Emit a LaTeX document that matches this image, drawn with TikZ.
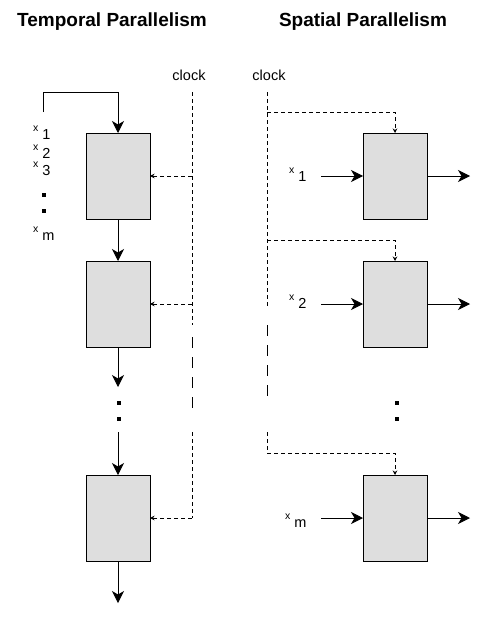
\documentclass[tikz,border=0pt]{standalone}
\usepackage{fontspec}
\setmainfont{Liberation Sans}
\usetikzlibrary{arrows.meta,positioning}
\definecolor{boxgray}{RGB}{222,222,222}
\newcommand{\xsub}[1]{\raisebox{8pt}{\fontsize{10.5}{10.5}\selectfont x}\hspace{4pt}{\fontsize{14.5}{14.5}\selectfont #1}}

\begin{document}
\begin{tikzpicture}[
    x=1pt, y=-1pt,
    stage/.style={rectangle, draw, line width=1pt, fill=boxgray, minimum width=64pt, minimum height=86pt, inner sep=0pt, outer sep=0pt},
    flow/.style={-{Stealth[length=12pt, width=12pt, inset=3.5pt]}, line width=1pt},
    clkarrow/.style={-{Stealth[length=4.5pt, width=4.5pt]}, line width=1pt, dash pattern=on 4pt off 3pt},
    shortdash/.style={line width=1pt, dash pattern=on 4pt off 3pt},
    longdash/.style={line width=1pt, dash pattern=on 11pt off 9pt},
    dotbox/.style={rectangle, fill, minimum size=4pt, inner sep=0pt},
    heading/.style={font=\fontsize{19}{22}\selectfont\bfseries, anchor=base},
    clocklabel/.style={font=\fontsize{14.5}{16}\selectfont, anchor=base},
    inlabel/.style={anchor=base west, inner sep=0pt}
]
\useasboundingbox (0,0) rectangle (479,618);

% Titles
\node[heading] (tempT) at (112,27) {Temporal Parallelism};
\node[heading] (spatT) at (363,27) {Spatial Parallelism};

% Clock labels
\node[clocklabel] (clkT) at (189,80) {clock};
\node[clocklabel] (clkS) at (269,80) {clock};

% Temporal: pipeline stages
\node[stage] (t1) at (118,176) {};
\node[stage, below=42pt of t1] (t2) {};
\node[stage, below=128pt of t2] (t3) {};

% Temporal: input stream
\node[inlabel] (x1) at (33,139) {\xsub{1}};
\node[inlabel] (x2) at (33,158) {\xsub{2}};
\node[inlabel] (x3) at (33,175) {\xsub{3}};
\node[dotbox] (dl1) at (44,195) {};
\node[dotbox] (dl2) at (44,211) {};
\node[inlabel] (xm) at (33,240) {\xsub{m}};

% Temporal: gap between stages
\node[dotbox] (dm1) at (118.5,403) {};
\node[dotbox] (dm2) at (118.5,419) {};

% Spatial: parallel units
\node[stage] (s1) at (395,176) {};
\node[stage, below=42pt of s1] (s2) {};
\node[stage, below=128pt of s2] (s3) {};

% Spatial: inputs
\node[inlabel] (y1) at (289,181) {\xsub{1}};
\node[inlabel] (y2) at (289,308) {\xsub{2}};
\node[inlabel] (ym) at (285,527) {\xsub{m}};
\node[dotbox] (dr1) at (397,403) {};
\node[dotbox] (dr2) at (397,419) {};

% Coordinates for free ends
\coordinate (feed) at (43,112);
\coordinate[below=40pt of t2.south] (gapin);
\coordinate[above=43pt of t3.north] (gapout);
\coordinate[below=42pt of t3.south] (outT);
\coordinate[left=42pt of s1.west] (ins1);
\coordinate[left=42pt of s2.west] (ins2);
\coordinate[left=42pt of s3.west] (ins3);
\coordinate[right=43pt of s1.east] (outs1);
\coordinate[right=43pt of s2.east] (outs2);
\coordinate[right=43pt of s3.east] (outs3);

% Temporal arrows
\draw[flow] (feed) -- ++(0,-20) -| (t1.north);
\draw[flow] (t1.south) -- (t2.north);
\draw[flow] (t2.south) -- (gapin);
\draw[flow] (gapout) -- (t3.north);
\draw[flow] (t3.south) -- (outT);

% Spatial arrows
\draw[flow] (ins1) -- (s1.west);
\draw[flow] (ins2) -- (s2.west);
\draw[flow] (ins3) -- (s3.west);
\draw[flow] (s1.east) -- (outs1);
\draw[flow] (s2.east) -- (outs2);
\draw[flow] (s3.east) -- (outs3);

% Temporal clock line
\coordinate (cl0) at (192,92);
\coordinate (cl1) at (192,325);
\coordinate (cl2) at (192,337);
\coordinate (cl3) at (192,412);
\coordinate (cl4) at (192,432);
\draw[shortdash] (cl0) -- (cl1);
\draw[longdash] (cl2) -- (cl3);
\draw[shortdash] (cl4) -- (t3.east -| cl0);
\draw[clkarrow] (t1.east -| cl0) -- (t1.east);
\draw[clkarrow] (t2.east -| cl0) -- (t2.east);
\draw[clkarrow] (t3.east -| cl0) -- (t3.east);

% Spatial clock line
\coordinate (cr0) at (267,92);
\coordinate (cr1) at (267,306);
\coordinate (cr2) at (267,325);
\coordinate (cr3) at (267,402);
\coordinate (cr4) at (267,432);
\coordinate[above=21pt of s1.north] (cks1);
\coordinate[above=21pt of s2.north] (cks2);
\coordinate[above=22pt of s3.north] (cks3);
\draw[shortdash] (cr0) -- (cr1);
\draw[longdash] (cr2) -- (cr3);
\draw[shortdash] (cr4) -- (cks3 -| cr0);
\draw[clkarrow] (cks1 -| cr0) -- (cks1) -- (s1.north);
\draw[clkarrow] (cks2 -| cr0) -- (cks2) -- (s2.north);
\draw[clkarrow] (cks3 -| cr0) -- (cks3) -- (s3.north);

\end{tikzpicture}
\end{document}
